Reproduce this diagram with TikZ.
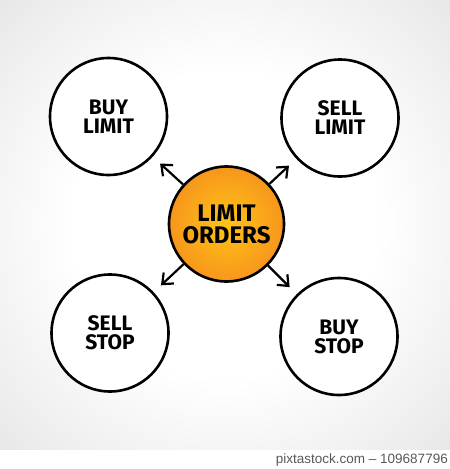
\documentclass[tikz,border=0pt]{standalone}
\usepackage{fontspec}
\setmainfont{Liberation Sans}
\newfontfamily\hand{Fira Sans}
\usetikzlibrary{arrows.meta}
\definecolor{bgout}{HTML}{D9D9D9}
\definecolor{orin}{HTML}{FFC417}
\definecolor{orout}{HTML}{F7961C}
\pgfdeclareradialshading{bgshade}{\pgfpoint{0cm}{0cm}}{%
  color(0cm)=(white); color(0.6cm)=(white); color(1.1cm)=(white!93!black); color(1.6cm)=(bgout)}
\begin{document}
\begin{tikzpicture}[x=1pt,y=-1pt,
  outer/.style={circle, draw=black, line width=2.6pt, minimum size=117pt, inner sep=0pt, align=center,
    fill=white, font=\hand\bfseries\fontsize{21}{19}\selectfont},
  hub/.style={outer, inner color=orin, outer color=orout, minimum size=115pt,
    font=\hand\bfseries\fontsize{24}{22}\selectfont},
  arr/.style={-{Straight Barb[length=9pt,width=15pt]}, line width=2.2pt, shorten >=10pt}]
\useasboundingbox (0,0) rectangle (450,469);
\shade[shading=bgshade] (0,0) rectangle (450,450);
\fill[white] (0,450) rectangle (450,469);
\node[hub] (c) at (226.5,224) {LIMIT\\ORDERS};
\node[outer] (bl) at (108.5,116.5) {BUY\\LIMIT};
\node[outer] (sl) at (340,118) {SELL\\LIMIT};
\node[outer] (ss) at (110,333) {SELL\\STOP};
\node[outer] (bs) at (339,336.5) {BUY\\STOP};
\draw[arr] (c) -- (bl);
\draw[arr] (c) -- (sl);
\draw[arr] (c) -- (ss);
\draw[arr] (c) -- (bs);
\node[anchor=base east, font=\fontsize{13.5}{15}\selectfont, text=black!65, inner sep=0pt] (wm) at (448,463) {pixtastock.com – 109687796};
\end{tikzpicture}
\end{document}
